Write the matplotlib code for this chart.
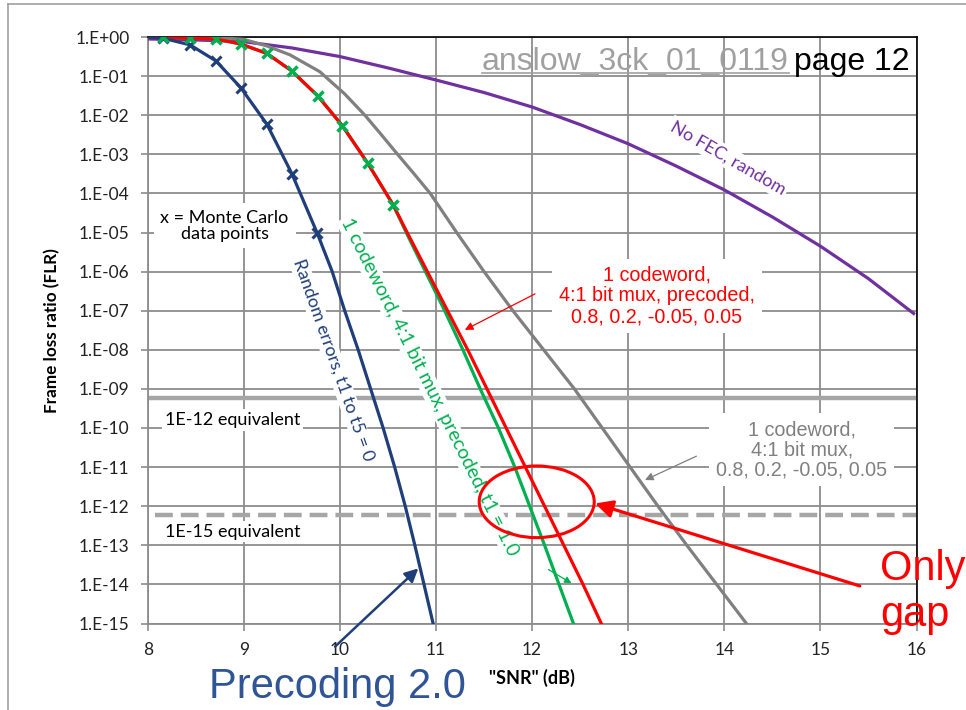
import matplotlib
matplotlib.use("Agg")
import matplotlib.pyplot as plt
from matplotlib.patches import Ellipse
from matplotlib.lines import Line2D

plt.rcParams['font.family'] = ['Lato', 'DejaVu Sans']

# curves: SNR (dB) vs frame loss ratio
random_snr = [8.00, 8.16, 8.44, 8.71, 8.97, 9.24, 9.50, 9.765, 9.92, 10.05,
              10.19, 10.32, 10.45, 10.57, 10.68, 10.78, 10.875, 10.97]
random_flr = [0.99, 0.93, 0.63, 0.245, 0.05, 5.9e-3, 3.2e-4, 9.5e-6, 1e-6, 1e-7,
              1e-8, 1e-9, 1e-10, 1e-11, 1e-12, 1e-13, 1e-14, 1e-15]
random_mc_snr = [8.16, 8.44, 8.71, 8.97, 9.24, 9.50, 9.765]
random_mc_flr = [0.93, 0.63, 0.245, 0.05, 5.9e-3, 3.2e-4, 9.5e-6]

precoded_mc_snr = [8.16, 8.44, 8.71, 8.97, 9.24, 9.50, 9.77, 10.025, 10.29, 10.556]
precoded_mc_flr = [0.98, 0.93, 0.89, 0.66, 0.38, 0.135, 0.031, 5.4e-3, 5.9e-4, 5.0e-5]

red_snr = [8.00] + precoded_mc_snr + [10.70, 10.91, 11.12, 11.33, 11.53, 11.73,
                                      11.93, 12.13, 12.33, 12.53, 12.72]
red_flr = [0.99] + precoded_mc_flr + [1e-5, 1e-6, 1e-7, 1e-8, 1e-9, 1e-10,
                                      1e-11, 1e-12, 1e-13, 1e-14, 1e-15]

green_snr = [8.00] + precoded_mc_snr + [10.69, 10.89, 11.09, 11.28, 11.46, 11.65,
                                        11.82, 11.975, 12.13, 12.28, 12.43]
green_flr = red_flr

gray_snr = [8.00, 8.50, 8.75, 9.00, 9.24, 9.48, 9.79, 10.05, 10.26, 10.43, 10.60,
            10.77, 10.94, 11.215, 11.50, 11.80, 12.12, 12.44, 12.73, 13.02, 13.31,
            13.61, 13.92, 14.23]
gray_flr = [0.995, 0.986, 0.955, 0.87, 0.59, 0.35, 0.13, 0.035, 1e-2, 3.2e-3, 1e-3,
            3.2e-4, 1e-4, 1e-5, 1e-6, 1e-7, 1e-8, 1e-9, 1e-10, 1e-11, 1e-12,
            1e-13, 1e-14, 1e-15]

nofec_snr = [8.00, 8.50, 9.00, 9.50, 10.00, 10.50, 11.00, 11.50, 12.00, 12.50,
             13.00, 13.50, 14.00, 14.50, 15.00, 15.50, 15.97]
nofec_flr = [0.891, 0.841, 0.759, 0.525, 0.316, 0.162, 0.0794, 0.038, 0.0162,
             5.75e-3, 1.86e-3, 5.0e-4, 1.23e-4, 2.5e-5, 4.47e-6, 6.6e-7, 8.5e-8]

flr_1e12_equiv = 6e-10
flr_1e15_equiv = 6e-13

xticks = [8, 9, 10, 11, 12, 13, 14, 15, 16]
yticks = [10.0 ** -k for k in range(16)]
ytick_labels = ['1.E+00'] + ['1.E-%02d' % k for k in range(1, 16)]

NAVY = '#203F7A'
GREEN = '#00B050'
RED = '#FF0000'
GRAY = '#808080'
PURPLE = '#7030A0'
GRID = '#8C8C8C'
THRESH = '#A6A6A6'
W, H = 966, 710

fig = plt.figure(figsize=(W / 100, H / 100), dpi=100)
ax = fig.add_axes([147.7 / W, 1 - 623.5 / H, 768.8 / W, 586.5 / H])

# slide frame
fig.add_artist(Line2D([8 / W, 8 / W], [1 - 4 / H, 0], color='#A0A0A0', lw=1.2))
fig.add_artist(Line2D([8 / W, 1], [1 - 4 / H, 1 - 4 / H], color='#A0A0A0', lw=1.2))

ax.set_yscale('log')
ax.set_xlim(8, 16)
ax.set_ylim(1e-15, 1)
ax.set_xticks(xticks)
ax.set_yticks(yticks)
ax.set_yticklabels(ytick_labels)
ax.minorticks_off()
ax.grid(True, color=GRID, lw=1.3)
ax.set_axisbelow(True)
ax.tick_params(direction='out', length=5, width=1.2, color=GRID, labelsize=12.5,
               pad=8, labelcolor='#222222')
for s in ['left', 'bottom']:
    ax.spines[s].set_color(GRID)
    ax.spines[s].set_linewidth(1.3)
for s in ['top', 'right']:
    ax.spines[s].set_color('black')
    ax.spines[s].set_linewidth(1.2)

ax.axhline(flr_1e12_equiv, color=THRESH, lw=3.2, zorder=2)
ax.plot([8.08, 16], [flr_1e15_equiv, flr_1e15_equiv], color=THRESH, lw=3.2,
        ls=(0, (4, 1.8)), zorder=2)

lw = 2.3
ax.plot(nofec_snr, nofec_flr, color=PURPLE, lw=lw, zorder=3)
ax.plot(gray_snr, gray_flr, color=GRAY, lw=lw, zorder=3)
ax.plot(green_snr, green_flr, color=GREEN, lw=lw, zorder=3)
ax.plot(red_snr, red_flr, color=RED, lw=lw, zorder=3)
ax.plot(random_snr, random_flr, color=NAVY, lw=lw, zorder=3)
ax.plot(random_mc_snr, random_mc_flr, ls='none', marker='x', ms=7, mew=2.2,
        color=NAVY, zorder=4)
ax.plot(precoded_mc_snr, precoded_mc_flr, ls='none', marker='x', ms=7, mew=2.5,
        color=GREEN, zorder=4)

ax.set_xlabel('"SNR" (dB)', fontsize=13, fontweight='bold')
ax.xaxis.set_label_coords(0.5, -(678.3 - 623.5) / 586.5)
ax.xaxis.label.set_verticalalignment('center')
ax.set_ylabel('Frame loss ratio (FLR)', fontsize=12.3, fontweight='bold')
ax.yaxis.set_label_coords((52.5 - 147.7) / 768.8, 0.5)
ax.yaxis.label.set_verticalalignment('center')

box = dict(fc='white', ec='none', pad=2)
arial = ['Liberation Sans', 'DejaVu Sans']

ax.text(8.8, 10 ** -4.83, 'x = Monte Carlo\ndata points', fontsize=13, ha='center',
        va='center', bbox=dict(fc='white', ec='none', pad=5), zorder=5,
        linespacing=0.95)
ax.text(8.18, 10 ** -9.8, '1E-12 equivalent', fontsize=13, ha='left', va='center',
        zorder=5, bbox=box)
ax.text(8.18, 10 ** -12.65, '1E-15 equivalent', fontsize=13, ha='left', va='center',
        zorder=5, bbox=box)

ax.text(14.04, 10 ** -3.09, 'No FEC, random', fontsize=13, color=PURPLE,
        rotation=-30, ha='center', va='center', rotation_mode='anchor',
        bbox=box, zorder=5)
ax.text(9.93, 10 ** -8.26, 'Random errors, t1 to t5 = 0', fontsize=12.8, color=NAVY,
        rotation=-70.5, ha='center', va='center', rotation_mode='anchor',
        bbox=dict(fc='white', ec='none', pad=1), zorder=5)
ax.text(10.93, 10 ** -8.95, '1 codeword, 4:1 bit mux, precoded, t1 = 1.0',
        fontsize=14, color=GREEN, rotation=-63.4, ha='center', va='center',
        rotation_mode='anchor', bbox=dict(fc='white', ec='none', pad=1), zorder=5)

ax.text(13.30, 10 ** -6.62, '1 codeword,\n4:1 bit mux, precoded,\n0.8, 0.2, -0.05, 0.05',
        fontsize=14.2, color=RED, family=arial, ha='center', va='center',
        linespacing=1.12, bbox=dict(fc='white', ec='none', pad=5), zorder=5)
ax.text(14.805, 10 ** -10.56, '1 codeword,\n4:1 bit mux,\n0.8, 0.2, -0.05, 0.05',
        fontsize=14.2, color=GRAY, family=arial, ha='center', va='center',
        linespacing=1.08, bbox=dict(fc='white', ec='none', pad=5), zorder=5)

ax.annotate('', xy=(11.30, 10 ** -7.49), xytext=(12.03, 10 ** -6.57),
            arrowprops=dict(arrowstyle='-|>', color=RED, lw=0.9, mutation_scale=12,
                            shrinkA=0, shrinkB=0), zorder=6)
ax.annotate('', xy=(13.175, 10 ** -11.33), xytext=(13.71, 10 ** -10.72),
            arrowprops=dict(arrowstyle='-|>', color=GRAY, lw=0.9, mutation_scale=12,
                            shrinkA=0, shrinkB=0), zorder=6)
ax.annotate('', xy=(12.41, 10 ** -13.97), xytext=(12.17, 10 ** -13.62),
            arrowprops=dict(arrowstyle='-|>', color=GREEN, lw=0.9, mutation_scale=10,
                            shrinkA=0, shrinkB=0), zorder=6)

ax.add_patch(Ellipse((0.506, 0.2075), 0.1496, 0.1222, transform=ax.transAxes,
                     fill=False, ec=RED, lw=2.2, zorder=6))
ax.annotate('', xy=(12.655, 10 ** -11.93), xytext=(15.41, 10 ** -14.04),
            arrowprops=dict(arrowstyle='-|>', color=RED, lw=2.3, mutation_scale=26,
                            shrinkA=0, shrinkB=0), zorder=6, annotation_clip=False)
ax.annotate('', xy=(10.816, 10 ** -13.59), xytext=(9.95, 10 ** -15.59),
            arrowprops=dict(arrowstyle='-|>', color=NAVY, lw=1.8, mutation_scale=20,
                            shrinkA=0, shrinkB=0), zorder=6, annotation_clip=False)

fig.text(880 / W, 1 - 580 / H, 'Only', fontsize=30, color=RED, family=arial,
         va='baseline', ha='left')
fig.text(880 / W, 1 - 626 / H, 'gap', fontsize=30, color=RED, family=arial,
         va='baseline', ha='left')
fig.text(209 / W, 1 - 698.3 / H, 'Precoding 2.0', fontsize=30, color='#2F5597',
         family=arial, va='baseline', ha='left')

doc = fig.text(481.7 / W, 1 - 70 / H, 'anslow_3ck_01_0119', fontsize=23,
               color='#A0A0A0', family=arial, va='baseline', ha='left')
fig.text(910 / W, 1 - 70 / H, 'page 12', fontsize=23, color='black', family=arial,
         va='baseline', ha='right')
fig.canvas.draw()
bb = doc.get_window_extent()
fig.add_artist(Line2D([bb.x0 / W, bb.x1 / W], [1 - 72.7 / H, 1 - 72.7 / H],
                      color='#A0A0A0', lw=1.2))

fig.savefig('out.png', dpi=100)
